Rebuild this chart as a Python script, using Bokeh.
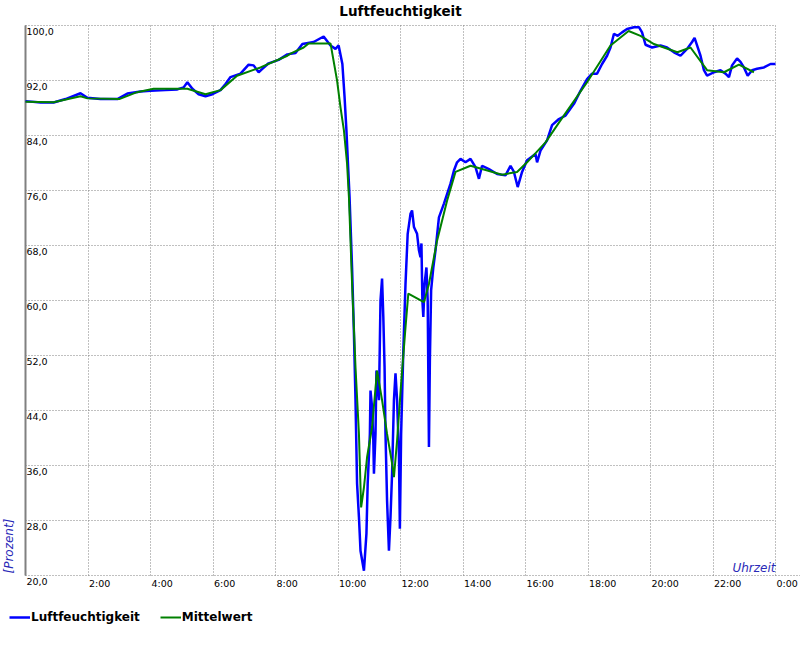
from bokeh.plotting import figure
from bokeh.models import (ColumnDataSource, LabelSet, Label, FixedTicker, Range1d,
                          Legend, LegendItem, Grid)
from bokeh.core.properties import value
from bokeh.embed import file_html
from bokeh.resources import INLINE
import math

# ---- data -----------------------------------------------------------------
hum_hours = [0.0, 0.48, 0.9, 1.28, 1.76, 1.98, 2.4, 2.94, 3.26, 3.68, 4.0, 4.48,
             4.86, 5.06, 5.18, 5.34, 5.54, 5.76, 5.98, 6.24, 6.4, 6.56, 6.88, 7.14,
             7.3, 7.46, 7.58, 7.78, 8.1, 8.38, 8.64, 8.86, 9.22, 9.54, 9.76, 9.92,
             10.02, 10.14, 10.21, 10.27, 10.37, 10.45, 10.51, 10.56, 10.61, 10.67,
             10.72, 10.83, 10.91, 10.95, 11.02, 11.04, 11.09, 11.13, 11.15, 11.2,
             11.23, 11.31, 11.36, 11.41, 11.45, 11.49, 11.52, 11.57, 11.63, 11.68,
             11.73, 11.79, 11.84, 11.89, 11.95, 11.98, 12.02, 12.09, 12.16, 12.23,
             12.32, 12.37, 12.43, 12.53, 12.59, 12.64, 12.67, 12.7, 12.73, 12.77,
             12.83, 12.87, 12.91, 12.94, 12.98, 13.05, 13.12, 13.23, 13.39, 13.6,
             13.71, 13.81, 13.92, 14.08, 14.24, 14.4, 14.51, 14.61, 14.83, 15.09,
             15.36, 15.52, 15.63, 15.75, 15.89, 16.05, 16.32, 16.37, 16.48, 16.69,
             16.85, 17.07, 17.28, 17.55, 17.76, 17.97, 18.13, 18.29, 18.45, 18.61,
             18.72, 18.83, 18.95, 19.09, 19.25, 19.47, 19.63, 19.73, 19.84, 20.05,
             20.32, 20.53, 20.75, 20.96, 21.17, 21.33, 21.41, 21.49, 21.6, 21.71,
             21.81, 22.03, 22.24, 22.4, 22.51, 22.61, 22.77, 22.88, 22.99, 23.11,
             23.25, 23.41, 23.63, 23.84, 24.0]
hum_values = [89.0, 88.8, 88.8, 89.3, 90.15, 89.5, 89.3, 89.3, 90.1, 90.4, 90.5, 90.6,
              90.7, 91.0, 91.75, 90.8, 90.0, 89.7, 90.0, 90.6, 91.5, 92.5, 93.0, 94.3,
              94.2, 93.2, 93.7, 94.5, 95.0, 95.8, 96.0, 97.3, 97.6, 98.4, 97.1, 96.6,
              97.1, 94.4, 89.6, 84.7, 75.0, 64.8, 55.2, 45.5, 33.4, 28.5,
              23.6, 20.7, 26.1, 33.4, 40.6, 46.9, 44.5, 39.6, 34.8, 40.6,
              49.8, 45.5, 60.0, 63.2, 57.6, 50.3, 40.6, 30.9, 23.6, 28.5,
              34.8, 45.5, 49.4, 45.5, 37.7, 26.8, 40.6, 52.7, 62.4, 69.7,
              72.6, 73.1, 70.7, 69.7, 67.3, 66.3, 68.3, 60.0, 57.6, 62.4,
              64.8, 60.0, 38.7, 51.3, 61.5, 64.8, 67.3, 72.1, 74.1, 77.0,
              78.9, 80.1, 80.6, 80.1, 80.6, 79.4, 77.7, 79.6, 79.1, 78.4,
              78.2, 79.6, 78.7, 76.5, 78.7, 80.4, 81.3, 80.1, 81.8, 83.3,
              85.5, 86.4, 86.9, 88.6, 90.5, 92.2, 93.0, 93.0, 94.4, 95.6,
              96.8, 98.8, 98.5, 99.0, 99.5, 99.75, 99.75, 99.0, 97.2, 96.8,
              97.1, 96.8, 96.1, 95.6, 96.6, 97.6, 98.2, 97.1, 95.6, 93.5,
              92.7, 93.2, 93.5, 93.0, 92.5, 94.2, 95.2, 94.7, 93.9, 92.7,
              93.5, 93.7, 93.9, 94.4, 94.4]

mean_hours = [0.0, 0.9, 1.76, 1.98, 3.0, 3.57, 4.1, 5.18, 5.76, 6.24, 6.77, 7.52,
              8.38, 8.48, 8.9, 9.06, 9.76, 9.97, 10.08, 10.19, 10.29, 10.35, 10.45,
              10.56, 10.67, 10.74, 10.83, 10.93, 11.09, 11.25, 11.41, 11.57, 11.73,
              11.79, 11.89, 12.02, 12.16, 12.25, 12.75, 12.91, 13.17, 13.49, 13.76,
              14.24, 14.78, 15.25, 15.73, 16.05, 16.64, 17.12, 17.97, 18.72, 19.3,
              19.68, 20.11, 20.86, 21.28, 21.81, 22.35, 22.83, 23.31]
mean_values = [88.9, 88.85, 89.7, 89.4, 89.3, 90.3, 90.8, 90.8, 90.0, 90.6, 92.7, 93.9,
               95.6, 95.9, 96.8, 97.4, 97.4, 92.0, 88.1, 84.7, 79.9, 75.0, 62.5,
               50.3, 40.6, 29.9, 32.8, 37.2, 41.6, 49.8, 45.5, 40.6, 36.3,
               34.3, 39.6, 47.9, 56.1, 61.0, 59.75, 62.4, 68.7, 74.5, 78.7,
               79.6, 78.9, 78.3, 78.7, 80.1, 83.0, 86.2, 91.75, 97.1, 99.2,
               98.5, 97.3, 96.1, 96.8, 93.5, 93.2, 94.3, 93.2]

x_ticks = [0, 2, 4, 6, 8, 10, 12, 14, 16, 18, 20, 22, 24]
x_label_ticks = [2, 4, 6, 8, 10, 12, 14, 16, 18, 20, 22, 24]
x_tick_labels = ["2:00", "4:00", "6:00", "8:00", "10:00", "12:00", "14:00",
                 "16:00", "18:00", "20:00", "22:00", "0:00"]
y_ticks = [20, 28, 36, 44, 52, 60, 68, 76, 84, 92, 100]
y_tick_labels = ["20,0", "28,0", "36,0", "44,0", "52,0", "60,0", "68,0", "76,0",
                 "84,0", "92,0", "100,0"]
x_min, x_max = 0, 24
y_min, y_max = 20, 100

title_text = "Luftfeuchtigkeit"
series_names = ["Luftfeuchtigkeit", "Mittelwert"]
x_title = "Uhrzeit"
y_title = "[Prozent]"

# ---- figure ---------------------------------------------------------------
FONT = "DejaVu Sans"
W, H = 800, 650
L, R, T, B = 25, 25, 25, 75          # margins of the data area, px
xs = (x_max - x_min) / (W - L - R)   # data units per px
ys = (y_max - y_min) / (H - T - B)
x_lo, x_hi = x_min - L * xs, x_max + R * xs

p = figure(width=W, height=H, output_backend="svg", toolbar_location=None,
           x_axis_location=None, y_axis_location=None,
           x_range=Range1d(x_lo, x_hi),
           y_range=Range1d(y_min - B * ys, y_max + T * ys),
           min_border=0)
p.outline_line_color = None
p.background_fill_color = "white"
p.border_fill_color = "white"
# drop the default grids; custom bounded grids are added below
p.center = [r for r in p.center if not isinstance(r, Grid)]

xgrid = Grid(dimension=0, ticker=FixedTicker(ticks=x_ticks),
             bounds=(x_min, x_max), cross_bounds=(y_min, y_max),
             grid_line_color="#808080", grid_line_dash="1 2", grid_line_width=1)
ygrid = Grid(dimension=1, ticker=FixedTicker(ticks=y_ticks[1:]),
             bounds=(y_min, y_max), cross_bounds=(x_min, x_max),
             grid_line_color="#808080", grid_line_dash="1 2", grid_line_width=1)
# dotted x-axis line, running to the right edge
xaxis_line = Grid(dimension=1, ticker=FixedTicker(ticks=[y_min]),
                  bounds=(y_min, y_max), cross_bounds=(x_min, x_hi),
                  grid_line_color="#808080", grid_line_dash="1 2", grid_line_width=1)
# solid y-axis line
yaxis_line = Grid(dimension=0, ticker=FixedTicker(ticks=[x_min]),
                  bounds=(x_min, x_max), cross_bounds=(y_min, y_max),
                  grid_line_color="#808080", grid_line_width=2)
p.add_layout(xgrid)
p.add_layout(ygrid)
p.add_layout(xaxis_line)
p.add_layout(yaxis_line)

r_hum = p.line(hum_hours, hum_values, line_color="#0000ff", line_width=2.5)
r_mean = p.line(mean_hours, mean_values, line_color="#008000", line_width=2)

# tick labels
xsrc = ColumnDataSource(dict(x=x_label_ticks, y=[y_min] * len(x_label_ticks),
                             t=x_tick_labels))
p.add_layout(LabelSet(x="x", y="y", text="t", source=xsrc, text_align="left",
                      text_baseline="top", x_offset=1, y_offset=-2,
                      text_font=value(FONT), text_font_size=value("9.5px"),
                      text_color="black"))
ysrc = ColumnDataSource(dict(x=[x_min] * len(y_ticks), y=y_ticks, t=y_tick_labels))
p.add_layout(LabelSet(x="x", y="y", text="t", source=ysrc, text_align="left",
                      text_baseline="top", x_offset=1, y_offset=-2,
                      text_font=value(FONT), text_font_size=value("9.5px"),
                      text_color="black"))

# titles
p.add_layout(Label(x=(x_min + x_max) / 2, y=y_max, text=title_text,
                   text_align="center", text_baseline="alphabetic", y_offset=15,
                   text_font=FONT, text_font_size="13.5px", text_font_style="bold",
                   text_color="black"))
p.add_layout(Label(x=x_max, y=y_min, text=x_title, text_align="right",
                   text_baseline="bottom", y_offset=1, text_font=FONT,
                   text_font_size="12px", text_font_style="italic",
                   text_color="#2a2ab8"))
p.add_layout(Label(x=x_min, y=y_min, text=y_title, text_align="left",
                   text_baseline="middle", angle=math.pi / 2, x_offset=-17,
                   y_offset=2, text_font=FONT, text_font_size="12px",
                   text_font_style="italic", text_color="#2a2ab8"))

legend = Legend(items=[LegendItem(label=series_names[0], renderers=[r_hum]),
                       LegendItem(label=series_names[1], renderers=[r_mean])],
                orientation="horizontal", location=(9, 26),
                label_text_font=FONT, label_text_font_size="12px",
                label_text_font_style="bold", label_text_color="black",
                glyph_width=21, glyph_height=14, label_height=14,
                label_standoff=1, spacing=20, padding=0, margin=0,
                border_line_color=None, background_fill_alpha=0)
p.add_layout(legend, "center")

open("out.html", "w").write(file_html(p, INLINE))
